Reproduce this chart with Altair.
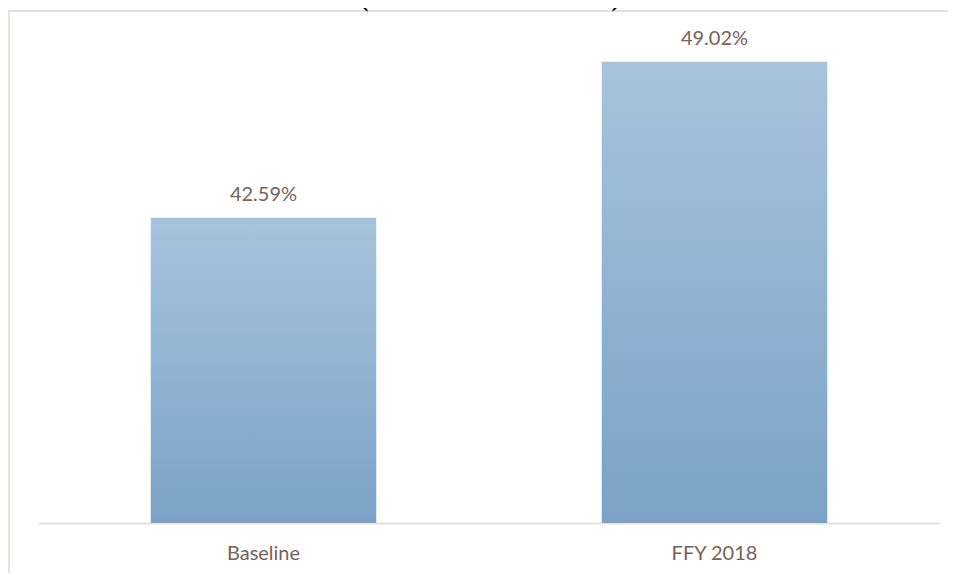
import altair as alt
import pandas as pd

categories = ["Baseline", "FFY 2018"]
values = [42.59, 49.02]
labels = ["42.59%", "49.02%"]
title_text = "(Baseline vs. FFY 2018)"

df = pd.DataFrame({"cat": categories, "val": values, "lbl": labels})

text_color = "#76625a"
line_color = "#e6e1dd"

x_enc = alt.X(
    "cat:N",
    sort=categories,
    scale=alt.Scale(paddingInner=0.5, paddingOuter=0.25),
    axis=alt.Axis(
        title=None,
        labelAngle=0,
        ticks=False,
        domainColor=line_color,
        domainWidth=2,
        labelColor=text_color,
        labelFont="Lato",
        labelFontSize=20,
        labelPadding=20,
        grid=False,
    ),
)
y_scale = alt.Scale(domain=[30, 50], zero=False, nice=False)

base = alt.Chart(df)

bars = base.mark_bar(
    color=alt.Gradient(
        gradient="linear",
        stops=[
            alt.GradientStop(color="#a7c3dd", offset=0),
            alt.GradientStop(color="#7ba2c5", offset=1),
        ],
        x1=0, x2=0, y1=0, y2=1,
    )
).encode(
    x=x_enc,
    y=alt.Y("val:Q", scale=y_scale, axis=None),
    y2=alt.datum(30),
)

value_text = base.mark_text(
    font="Lato", fontSize=20, color=text_color, baseline="alphabetic", dy=-17
).encode(
    x=alt.X("cat:N", sort=categories),
    y=alt.Y("val:Q", scale=y_scale),
    text="lbl:N",
)

title = alt.Chart(pd.DataFrame({"t": [title_text]})).mark_text(
    font="Liberation Serif", fontSize=26, fontWeight="bold", color="#000000",
    baseline="alphabetic", align="center",
).encode(x=alt.value(452), y=alt.value(-32), text="t:N")

top_line = alt.Chart(pd.DataFrame({"a": [0]})).mark_rule(
    color=line_color, strokeWidth=2
).encode(x=alt.value(-30), x2=alt.value(1000), y=alt.value(-27))

left_line = alt.Chart(pd.DataFrame({"a": [0]})).mark_rule(
    color=line_color, strokeWidth=2
).encode(x=alt.value(-29), y=alt.value(-27), y2=alt.value(700))

chart = (
    alt.layer(top_line, left_line, bars, value_text, title)
    .properties(
        width=902,
        height=485,
        autosize=alt.AutoSizeParams(type="none"),
        padding={"left": 30, "top": 30, "right": 8, "bottom": 50},
    )
    .configure_view(stroke=None)
)

chart.save("out.html", embed_options={"renderer": "svg", "actions": False})
